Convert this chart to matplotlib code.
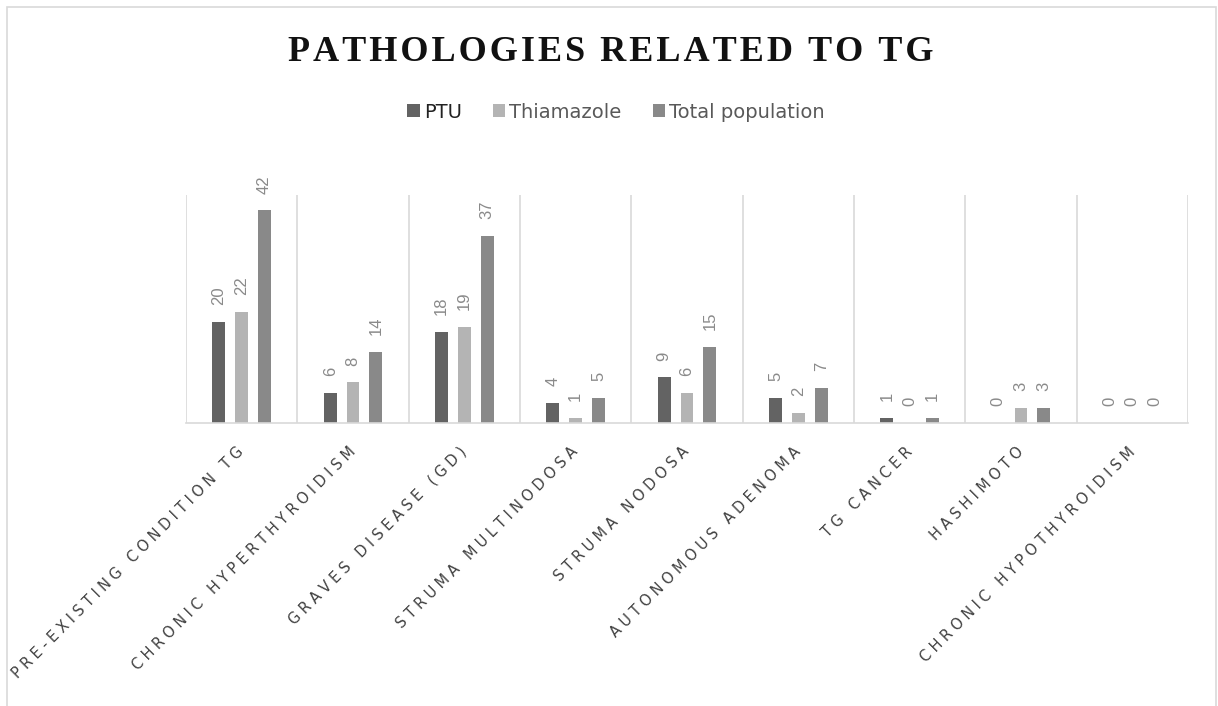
import numpy as np
import matplotlib
matplotlib.use('Agg')
import matplotlib.pyplot as plt
from matplotlib.patches import Rectangle

categories = ['PRE-EXISTING CONDITION TG', 'CHRONIC HYPERTHYROIDISM',
              'GRAVES DISEASE (GD)', 'STRUMA MULTINODOSA', 'STRUMA NODOSA',
              'AUTONOMOUS ADENOMA', 'TG CANCER', 'HASHIMOTO',
              'CHRONIC HYPOTHYROIDISM']
ptu = [20, 6, 18, 4, 9, 5, 1, 0, 0]
thiamazole = [22, 8, 19, 1, 6, 2, 0, 3, 0]
total = [42, 14, 37, 5, 15, 7, 1, 3, 0]
series_names = ['PTU', 'Thiamazole', 'Total population']
colors = ['#636363', '#b4b4b4', '#898989']
title = 'PATHOLOGIES RELATED TO TG'

W, H = 1218, 706
fig = plt.figure(figsize=(W / 100, H / 100), dpi=100)

# chart frame (bottom edge is cut off in the reference)
fig.patches.append(Rectangle((7 / W, -0.05), (1216 - 7) / W, (H - 7) / H + 0.05,
                             transform=fig.transFigure, fill=False,
                             edgecolor='#d9d9d9', linewidth=1.2))

ax = fig.add_axes([186 / W, (H - 423) / H, (1188 - 186) / W, (423 - 195) / H])

x = np.arange(len(categories))
width = 0.115
step = 0.205
for k, (vals, name, col) in enumerate(zip([ptu, thiamazole, total], series_names, colors)):
    pos = x + (k - 1) * step
    ax.bar(pos, vals, width, color=col, label=name)
    for p, v in zip(pos, vals):
        ax.annotate(str(v), (p, v), xytext=(0, 12), textcoords='offset points',
                    rotation=90, ha='center', va='bottom', fontsize=12,
                    color='#8a8a8a', family='Liberation Sans')

ax.set_xlim(-0.5, len(categories) - 0.5)
ax.set_ylim(0, 45)
for b in np.arange(len(categories) + 1) - 0.5:
    ax.axvline(b, color='#d9d9d9', linewidth=1.2, zorder=0)

for s in ['top', 'right', 'left']:
    ax.spines[s].set_visible(False)
ax.spines['bottom'].set_color('#d9d9d9')
ax.spines['bottom'].set_linewidth(1.2)
ax.set_yticks([])
ax.set_xticks(x)
# letter-spaced category labels
spaced = ['\u2009\u200a'.join(c) for c in categories]
ax.set_xticklabels(spaced, rotation=45, ha='right', va='center',
                   rotation_mode='anchor', fontsize=10.5, color='#404040')
ax.tick_params(axis='x', length=0, pad=19)

fig.text(611 / W, 1 - 61 / H, '\u200a'.join(title), ha='center', va='baseline',
         fontsize=26, fontweight='bold',
         family=['Liberation Serif', 'DejaVu Serif'], color='#111111')

leg = fig.legend(loc='center', bbox_to_anchor=(616 / W, 1 - 112 / H), ncol=3,
                 frameon=False, fontsize=14, handlelength=0.65, handleheight=0.65,
                 handletextpad=0.2, columnspacing=1.6)
for t, c in zip(leg.get_texts(), ['#222222', '#595959', '#595959']):
    t.set_color(c)

fig.savefig('out.png', dpi=100)
